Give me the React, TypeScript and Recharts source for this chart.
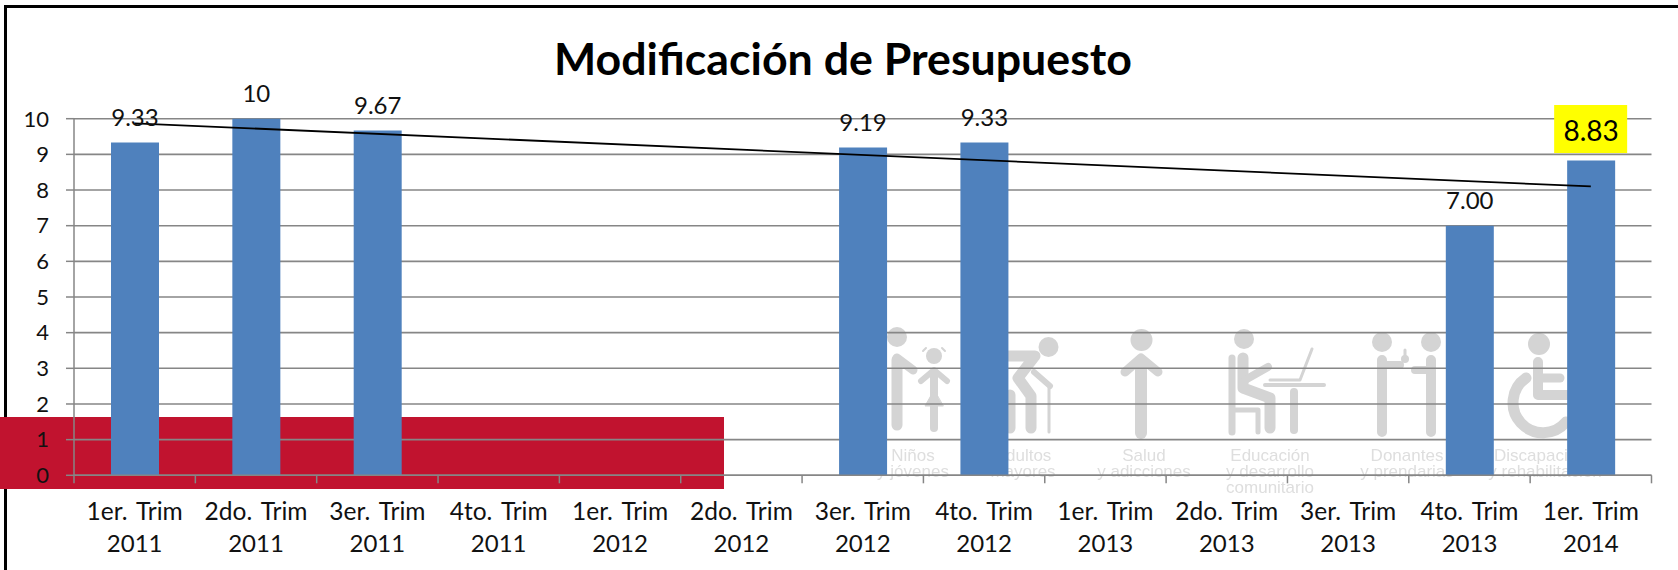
import { Bar, CartesianGrid, ComposedChart, LabelList, Line, XAxis, YAxis } from 'recharts';

const quarters = [
  '1er. Trim', '2do. Trim', '3er. Trim', '4to. Trim', '1er. Trim', '2do. Trim', '3er. Trim',
  '4to. Trim', '1er. Trim', '2do. Trim', '3er. Trim', '4to. Trim', '1er. Trim'
];
const years = ['2011', '2011', '2011', '2011', '2012', '2012', '2012', '2012', '2013', '2013', '2013', '2013', '2014'];
const values = [9.33, 10, 9.67, null, null, null, 9.19, 9.33, null, null, null, 7, 8.83];
const valueLabels = ['9.33', '10', '9.67', '', '', '', '9.19', '9.33', '', '', '', '7.00', '8.83'];
const trend = [9.87, null, null, null, null, null, null, null, null, null, null, null, 8.1];
const yTicks = [0, 1, 2, 3, 4, 5, 6, 7, 8, 9, 10];
const highlighted = '8.83';

const data = quarters.map((q, i) => ({
  key: `${q} ${years[i]} ${i}`,
  quarter: q,
  year: years[i],
  value: values[i],
  label: valueLabels[i],
  trend: trend[i]
}));

const WIDTH = 1678;
const HEIGHT = 570;
const FONT = 'Lato, sans-serif';
const AXIS = '#868686';
const BAND = 121.35;

function CategoryTick({ x, y, index }: any) {
  const item = data[index];
  const top = y - 8;
  return (
    <g>
      <line x1={x - BAND / 2} x2={x - BAND / 2} y1={top} y2={top + 8} stroke={AXIS} strokeWidth={1.5} />
      {index === data.length - 1 && (
        <line x1={x + BAND / 2} x2={x + BAND / 2} y1={top} y2={top + 8} stroke={AXIS} strokeWidth={1.5} />
      )}
      <text x={x} y={510} textAnchor="middle" dominantBaseline="central" fontFamily={FONT} fontSize={24.5} wordSpacing={3} fill="#111">
        {item.quarter}
      </text>
      <text x={x} y={542.5} textAnchor="middle" dominantBaseline="central" fontFamily={FONT} fontSize={24} fill="#111">
        {item.year}
      </text>
    </g>
  );
}

function ValueLabel({ x, y, width, value }: any) {
  if (!value) return null;
  const cx = x + width / 2;
  if (value === highlighted) {
    return (
      <g>
        <rect x={cx - 37} y={105} width={73} height={48} fill="#ffff00" />
        <text x={cx} y={y - 30} textAnchor="middle" dominantBaseline="central" fontFamily={FONT} fontSize={28} fill="#000">
          {value}
        </text>
      </g>
    );
  }
  return (
    <text x={cx} y={y - 26} textAnchor="middle" dominantBaseline="central" fontFamily={FONT} fontSize={24} fill="#111">
      {value}
    </text>
  );
}

// faded logo strip sitting behind the plot
function Watermark() {
  const ink = '#d4d4d4';
  const caption = { fontFamily: 'Liberation Sans, sans-serif', fontSize: 17, fill: '#dedede', textAnchor: 'middle' as const };
  return (
    <g style={{ filter: 'blur(0.6px)' }}>
      <g stroke={ink} fill="none" strokeLinecap="round" strokeLinejoin="round">
        {/* adult and girl */}
        <circle cx={897} cy={337} r={10} fill={ink} stroke="none" />
        <path d="M897 360 V425" strokeWidth={11} />
        <path d="M897 358 L913 370" strokeWidth={9} />
        <circle cx={934} cy={356} r={8} fill={ink} stroke="none" />
        <path d="M923 351 L926 348 M945 351 L942 348" strokeWidth={2} />
        <path d="M934 374 V428" strokeWidth={8} />
        <path d="M921 381 L934 370 L947 381" strokeWidth={6} />
        <path d="M934 390 L925 406 H943 Z" fill={ink} strokeWidth={1} />
        {/* older adult with cane */}
        <circle cx={1048.5} cy={347} r={10} fill={ink} stroke="none" />
        <path d="M1008 356 H1035 L1018 378 L1031 396 V428" strokeWidth={11} />
        <path d="M1034 372 L1050 386" strokeWidth={6} />
        <path d="M1049 388 V432" strokeWidth={3} />
        <path d="M1010 395 V428" strokeWidth={11} />
        {/* salud */}
        <circle cx={1141.5} cy={340} r={11} fill={ink} stroke="none" />
        <path d="M1141 362 V433" strokeWidth={12} />
        <path d="M1125 372 L1141 358 L1158 372" strokeWidth={9} />
        {/* educacion */}
        <circle cx={1244} cy={339} r={10} fill={ink} stroke="none" />
        <path d="M1232 358 V432" strokeWidth={7} />
        <path d="M1243 358 V388 L1270 398 V428" strokeWidth={11} />
        <path d="M1245 380 L1268 367" strokeWidth={8} />
        <path d="M1232 410 H1258 V432" strokeWidth={5} />
        <path d="M1265 385 H1324" strokeWidth={4} />
        <path d="M1270 380 H1300 L1312 349" strokeWidth={3} />
        <path d="M1294 392 V430" strokeWidth={8} />
        {/* donantes */}
        <circle cx={1382} cy={342} r={10} fill={ink} stroke="none" />
        <circle cx={1431} cy={342} r={10} fill={ink} stroke="none" />
        <path d="M1382 360 V432 M1431 360 V432" strokeWidth={10} />
        <path d="M1382 365 H1400 M1431 370 H1415" strokeWidth={8} />
        <path d="M1405 350 V356" strokeWidth={3} />
        <circle cx={1405} cy={359} r={4} fill={ink} stroke="none" />
        {/* discapacidad */}
        <circle cx={1539} cy={344} r={11} fill={ink} stroke="none" />
        <path d="M1538 362 V395 H1570" strokeWidth={10} />
        <path d="M1538 378 H1560" strokeWidth={9} />
        <path d="M1526 378 A30 30 0 1 0 1566 422" strokeWidth={11} />
      </g>
      <text {...caption} x={913} y={461}>Niños</text>
      <text {...caption} x={913} y={477}>y jóvenes</text>
      <text {...caption} x={1023} y={461}>Adultos</text>
      <text {...caption} x={1023} y={477}>mayores</text>
      <text {...caption} x={1144} y={461}>Salud</text>
      <text {...caption} x={1144} y={477}>y adicciones</text>
      <text {...caption} x={1270} y={461}>Educación</text>
      <text {...caption} x={1270} y={477}>y desarrollo</text>
      <text {...caption} x={1270} y={493}>comunitario</text>
      <text {...caption} x={1407} y={461}>Donantes</text>
      <text {...caption} x={1407} y={477}>y prendarias</text>
      <text {...caption} x={1545} y={461}>Discapacidad</text>
      <text {...caption} x={1545} y={477}>y rehabilitación</text>
    </g>
  );
}

export default function App() {
  return (
    <div style={{ position: 'absolute', left: 0, top: 0, width: WIDTH, height: HEIGHT, background: '#fff', overflow: 'hidden' }}>
      <svg width={WIDTH} height={HEIGHT} style={{ position: 'absolute', left: 0, top: 0 }}>
        <path d={`M${WIDTH} 6.5 H5.5 V${HEIGHT}`} fill="none" stroke="#000" strokeWidth={3} />
        <rect x={0} y={417} width={724} height={72} fill="#c1132f" />
        <Watermark />
      </svg>
      <ComposedChart
        width={WIDTH}
        height={HEIGHT}
        data={data}
        margin={{ top: 118.7, right: 26.5, bottom: 0, left: 0 }}
        style={{ position: 'absolute', left: 0, top: 0 }}
      >
        <CartesianGrid vertical={false} stroke={AXIS} strokeWidth={1.6} />
        <XAxis
          dataKey="key"
          height={94.7}
          interval={0}
          axisLine={{ stroke: AXIS, strokeWidth: 1.6 }}
          tickLine={false}
          tick={<CategoryTick />}
        />
        <YAxis
          width={74}
          domain={[0, 10]}
          ticks={yTicks}
          interval={0}
          axisLine={{ stroke: AXIS, strokeWidth: 1.5 }}
          tickLine={{ stroke: AXIS, strokeWidth: 1.5 }}
          tickSize={8}
          tickMargin={17}
          tick={{ fontFamily: FONT, fontSize: 22, fill: '#111' }}
        />
        <Bar dataKey="value" fill="#4f81bd" barSize={48} isAnimationActive={false}>
          <LabelList dataKey="label" content={<ValueLabel />} />
        </Bar>
        <Line dataKey="trend" type="linear" connectNulls dot={false} stroke="#000" strokeWidth={1.8} isAnimationActive={false} />
        <text x={843} y={58} textAnchor="middle" dominantBaseline="central" fontFamily={FONT} fontWeight={700} fontSize={44.7} fill="#000">
          Modificación de Presupuesto
        </text>
      </ComposedChart>
    </div>
  );
}
